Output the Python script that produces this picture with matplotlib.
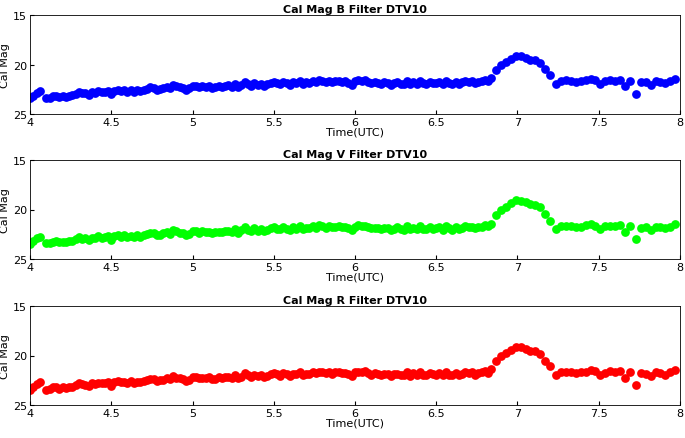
import numpy as np
import matplotlib
matplotlib.use("Agg")
import matplotlib.pyplot as plt

start_t = [4.00, 4.02, 4.04, 4.06]
start_b = [23.4, 23.2, 22.9, 22.7]

mid_t = np.round(np.arange(4.10, 6.85, 0.02), 2)
mid_b = [23.4,23.4,23.2,23.2,23.3,23.2,23.3,23.2,23.1,23.0,
         22.8,22.9,22.9,23.1,22.8,22.9,22.7,22.8,22.8,22.7,
         23.0,22.7,22.6,22.7,22.6,22.8,22.6,22.8,22.6,22.7,
         22.6,22.5,22.3,22.4,22.6,22.5,22.4,22.3,22.4,22.1,
         22.2,22.3,22.4,22.6,22.4,22.2,22.2,22.3,22.2,22.3,
         22.2,22.4,22.3,22.2,22.3,22.2,22.1,22.3,22.0,22.3,
         22.1,21.8,22.0,22.2,21.9,22.1,22.0,22.2,22.0,21.9,
         21.8,21.9,22.0,21.8,21.9,22.1,21.8,21.9,21.7,22.0,
         21.8,21.9,21.7,21.8,21.6,21.7,21.8,21.7,21.8,21.7,
         21.7,21.8,21.7,21.9,22.1,21.7,21.6,21.7,21.6,21.8,
         21.9,21.8,21.9,22.0,21.8,21.9,22.1,21.9,21.8,22.0,
         22.0,21.7,22.0,21.8,22.0,21.7,21.9,22.0,21.8,21.9,
         21.9,21.8,22.0,21.7,21.9,22.0,21.8,22.0,21.8,21.7,
         21.8,21.7,21.9,21.8,21.7,21.6,21.7,21.4]

peak_t = [6.87, 6.90, 6.93, 6.96, 6.99, 7.02, 7.05, 7.08, 7.11, 7.14, 7.17, 7.20]
peak_b = [20.6, 20.1, 19.7, 19.4, 19.1, 19.1, 19.3, 19.5, 19.5, 19.8, 20.5, 21.1]

tail_t = [7.24,7.27,7.30,7.33,7.36,7.39,7.42,7.45,7.48,7.51,7.54,7.57,7.60,
          7.63,7.66,7.69,7.73,7.76,7.79,7.82,7.85,7.88,7.91,7.94,7.97]
tail_b = [22.0,21.7,21.6,21.7,21.8,21.7,21.6,21.5,21.6,22.0,21.7,21.6,21.7,
          21.6,22.2,21.7,23.0,21.8,21.8,22.1,21.7,21.8,21.9,21.7,21.5]

time_b = list(start_t) + list(mid_t) + peak_t + tail_t
mag_b = start_b + mid_b + peak_b + tail_b
mag_v = [m + (0.05 if i % 3 == 0 else -0.03) for i, m in enumerate(mag_b)]
mag_r = [m + (0.08 if i % 4 == 0 else 0.0) for i, m in enumerate(mag_b)]

panels = [("Cal Mag B Filter DTV10", mag_b, "#0000ff"),
          ("Cal Mag V Filter DTV10", mag_v, "#00ff00"),
          ("Cal Mag R Filter DTV10", mag_r, "#ff0000")]

fig = plt.figure(figsize=(6.85, 4.39), dpi=100)
tops = [16, 161, 307]
H = 99
for (title, mags, col), top in zip(panels, tops):
    ax = fig.add_axes([30/685, 1 - (top + H)/439, 650/685, H/439])
    ax.plot(time_b, mags, 'o', color=col, markersize=6.3, markeredgewidth=0)
    ax.set_xlim(4, 8)
    ax.set_ylim(25, 15)
    ax.set_yticks([15, 20, 25])
    ax.set_xticks([4, 4.5, 5, 5.5, 6, 6.5, 7, 7.5, 8])
    ax.set_xticklabels(["4", "4.5", "5", "5.5", "6", "6.5", "7", "7.5", "8"])
    ax.tick_params(labelsize=8, direction='in', length=3, pad=2)
    ax.set_title(title, fontsize=8, fontweight='bold', pad=2)
    ax.set_xlabel("Time(UTC)", fontsize=8, labelpad=0)
    ax.set_ylabel("Cal Mag", fontsize=8, labelpad=2)
    for s in ax.spines.values():
        s.set_linewidth(0.6)
fig.savefig("out.png", dpi=100)
